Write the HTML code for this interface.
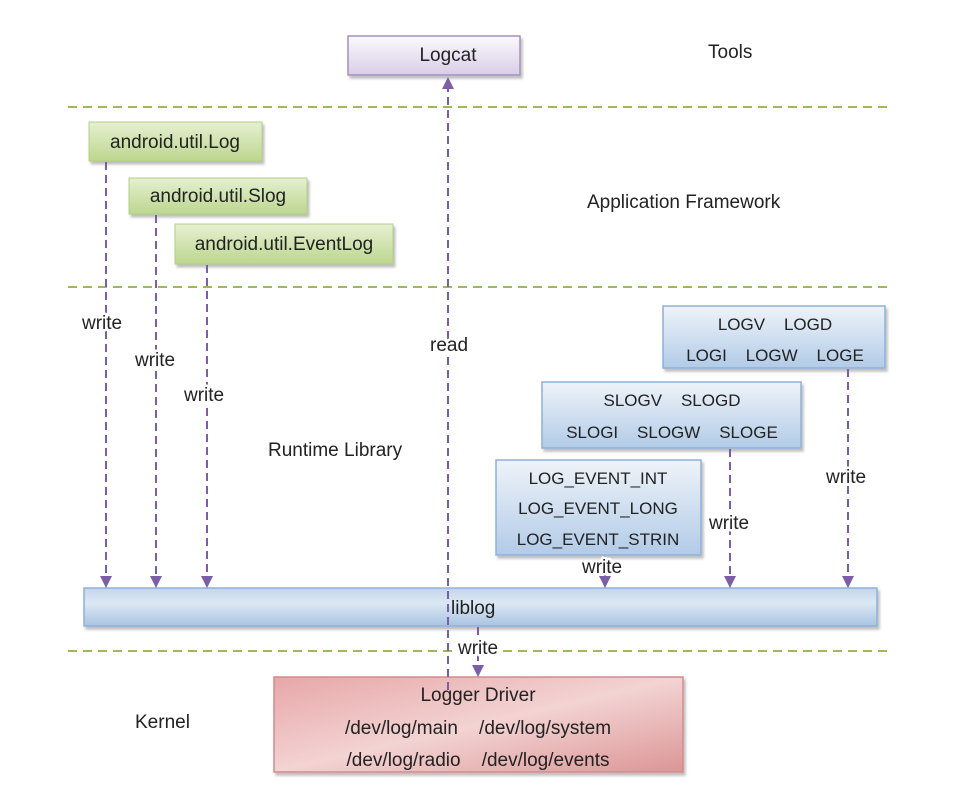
<!DOCTYPE html>
<html><head><meta charset="utf-8"><style>
html,body{margin:0;padding:0;background:#fff;}
svg{display:block;}
text{font-family:"Liberation Sans",sans-serif;font-size:19px;fill:#222;}
.c{font-size:17px;}
.lbl{paint-order:stroke;stroke:#fff;stroke-width:5px;stroke-linejoin:round;}
</style></head><body>
<svg width="980" height="808" viewBox="0 0 980 808" xmlns="http://www.w3.org/2000/svg">
<defs>
<linearGradient id="pur" x1="0" y1="0" x2="0" y2="1"><stop offset="0" stop-color="#fbf9fd"/><stop offset="1" stop-color="#d9cde6"/></linearGradient>
<linearGradient id="grn" x1="0" y1="0" x2="0" y2="1"><stop offset="0" stop-color="#e6f0d2"/><stop offset="1" stop-color="#bcd68e"/></linearGradient>
<linearGradient id="blu" x1="0" y1="0" x2="0" y2="1"><stop offset="0" stop-color="#eef3f9"/><stop offset="1" stop-color="#b2cbe7"/></linearGradient>
<linearGradient id="bar" x1="0" y1="0" x2="0" y2="1"><stop offset="0" stop-color="#c3d6ec"/><stop offset="0.4" stop-color="#dce8f3"/><stop offset="1" stop-color="#a8c3e2"/></linearGradient>
<linearGradient id="red" x1="0" y1="0" x2="1" y2="1"><stop offset="0" stop-color="#e7a7a8"/><stop offset="0.5" stop-color="#f3d3d3"/><stop offset="1" stop-color="#dc9596"/></linearGradient>
<filter id="sh" x="-5%" y="-10%" width="110%" height="130%"><feDropShadow dx="2" dy="3" stdDeviation="1.2" flood-color="#000" flood-opacity="0.25"/></filter>
</defs>

<g stroke="#9bbb59" stroke-width="2" stroke-dasharray="9,6">
<line x1="68" y1="107" x2="893" y2="107"/>
<line x1="68" y1="287" x2="893" y2="287"/>
<line x1="68" y1="651" x2="893" y2="651"/>
</g>

<rect x="348" y="36" width="172" height="39" fill="url(#pur)" stroke="#a48fc0" stroke-width="1.5" filter="url(#sh)"/>
<text x="448" y="61" text-anchor="middle">Logcat</text>

<rect x="89" y="122" width="173" height="39" fill="url(#grn)" stroke="#b4cf85" filter="url(#sh)"/>
<text x="175" y="148" text-anchor="middle">android.util.Log</text>
<rect x="129" y="178" width="178" height="36" fill="url(#grn)" stroke="#b4cf85" filter="url(#sh)"/>
<text x="218" y="202" text-anchor="middle">android.util.Slog</text>
<rect x="175" y="224" width="218" height="40" fill="url(#grn)" stroke="#b4cf85" filter="url(#sh)"/>
<text x="284" y="250" text-anchor="middle">android.util.EventLog</text>

<rect x="663" y="306" width="222" height="62" fill="url(#blu)" stroke="#8eb0d8" stroke-width="1.5" filter="url(#sh)"/>
<text class="c" x="775" y="330" text-anchor="middle" xml:space="preserve">LOGV    LOGD</text>
<text class="c" x="775" y="361" text-anchor="middle" xml:space="preserve">LOGI    LOGW    LOGE</text>

<rect x="542" y="382" width="259" height="66" fill="url(#blu)" stroke="#8eb0d8" stroke-width="1.5" filter="url(#sh)"/>
<text class="c" x="672" y="406" text-anchor="middle" xml:space="preserve">SLOGV    SLOGD</text>
<text class="c" x="672" y="438" text-anchor="middle" xml:space="preserve">SLOGI    SLOGW    SLOGE</text>

<rect x="496" y="460" width="205" height="95" fill="url(#blu)" stroke="#8eb0d8" stroke-width="1.5" filter="url(#sh)"/>
<text class="c" x="598" y="484" text-anchor="middle">LOG_EVENT_INT</text>
<text class="c" x="598" y="514" text-anchor="middle">LOG_EVENT_LONG</text>
<text class="c" x="598" y="545" text-anchor="middle">LOG_EVENT_STRIN</text>

<rect x="84" y="588" width="793" height="38" fill="url(#bar)" stroke="#8eb0d8" stroke-width="1.5" filter="url(#sh)"/>

<rect x="274" y="677" width="409" height="95" fill="url(#red)" stroke="#d48a8c" stroke-width="1.5" filter="url(#sh)"/>

<g stroke="#7b5ea7" stroke-width="2" stroke-dasharray="8,5" fill="none">
<line x1="448" y1="690" x2="448" y2="88"/>
<line x1="106" y1="162" x2="106" y2="578"/>
<line x1="156" y1="215" x2="156" y2="578"/>
<line x1="207" y1="265" x2="207" y2="578"/>
<line x1="605" y1="556" x2="605" y2="578"/>
<line x1="730" y1="449" x2="730" y2="578"/>
<line x1="848" y1="369" x2="848" y2="578"/>
<line x1="478" y1="627" x2="478" y2="667"/>
</g>
<g fill="#7b5ea7">
<path d="M442,89 L454,89 L448,77 Z"/>
<path d="M100,576 L112,576 L106,588 Z"/>
<path d="M150,576 L162,576 L156,588 Z"/>
<path d="M201,576 L213,576 L207,588 Z"/>
<path d="M599,576 L611,576 L605,588 Z"/>
<path d="M724,576 L736,576 L730,588 Z"/>
<path d="M842,576 L854,576 L848,588 Z"/>
<path d="M472,665 L484,665 L478,677 Z"/>
</g>

<text x="478" y="701" text-anchor="middle">Logger Driver</text>
<text x="478" y="734" text-anchor="middle" xml:space="preserve">/dev/log/main    /dev/log/system</text>
<text x="478" y="766" text-anchor="middle" xml:space="preserve">/dev/log/radio    /dev/log/events</text>

<text x="451" y="614">liblog</text>

<text class="lbl" x="82" y="329">write</text>
<text class="lbl" x="135" y="366">write</text>
<text class="lbl" x="184" y="401">write</text>
<text class="lbl" x="430" y="351">read</text>
<text class="lbl" x="709" y="529">write</text>
<text class="lbl" x="826" y="483">write</text>
<text class="lbl" x="582" y="573">write</text>
<text class="lbl" x="458" y="654">write</text>

<text x="708" y="58">Tools</text>
<text x="587" y="208">Application Framework</text>
<text x="268" y="456">Runtime Library</text>
<text x="135" y="728">Kernel</text>
</svg>
</body></html>
